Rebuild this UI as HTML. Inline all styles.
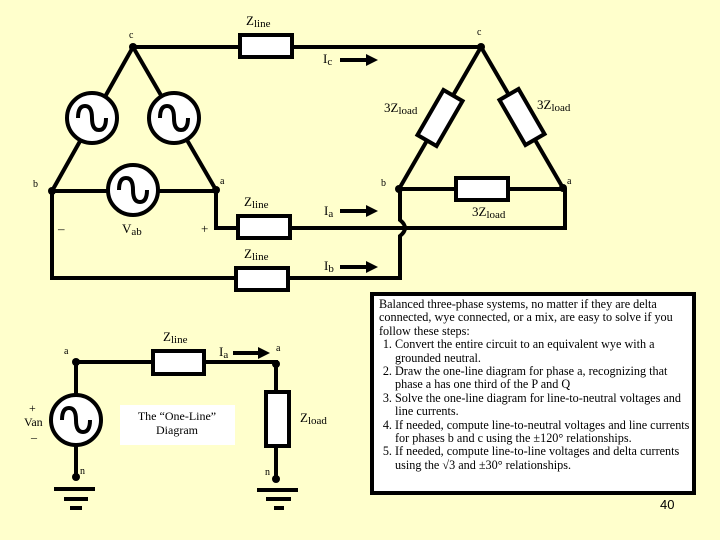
<!DOCTYPE html>
<html><head><style>
body{margin:0;background:#FFFFCC;}
svg{display:block;font-family:"Liberation Serif",serif;}
.w{stroke:#000;stroke-width:4;fill:none;}
.bx{stroke:#000;stroke-width:4;fill:#fff;}
.t{font-size:13px;}
.s{font-size:10px;}
#tb{position:absolute;left:370px;top:292px;border:4px solid #000;background:#fff;font-family:"Liberation Serif",serif;font-size:12.2px;line-height:13.4px;padding:2px 0 0 5px;box-sizing:border-box;width:326px;height:203px;}
#tb ol{margin:0;padding-left:16px;}
</style></head><body>
<svg width="720" height="540" viewBox="0 0 720 540">
<line class="w" x1="133" y1="47" x2="240" y2="47"/>
<rect class="bx" x="240" y="35" width="52" height="22"/>
<line class="w" x1="292" y1="47" x2="481" y2="47"/>
<line class="w" x1="133" y1="47" x2="52" y2="191"/>
<line class="w" x1="133" y1="47" x2="216" y2="190"/>
<line class="w" x1="52" y1="191" x2="216" y2="191"/>
<g class="bx"><circle cx="92" cy="118" r="25"/><circle cx="174" cy="118" r="25"/><circle cx="133" cy="190" r="25"/></g>
<g class="w" stroke-width="3.5">
<path d="M78 118 Q78 106 85 106 Q92 106 92 118 Q92 130 99 130 Q106 130 106 118"/>
<path d="M160 118 Q160 106 167 106 Q174 106 174 118 Q174 130 181 130 Q188 130 188 118"/>
<path d="M119 190 Q119 178 126 178 Q133 178 133 190 Q133 202 140 202 Q147 202 147 190"/>
</g>
<circle cx="133" cy="47" r="4"/><circle cx="52" cy="191" r="4"/><circle cx="216" cy="190" r="4"/>
<path class="w" d="M216 190 V228 H238"/>
<rect class="bx" x="238" y="216" width="52" height="22"/>
<path class="w" d="M290 228 H565 V188"/>
<path class="w" d="M52 191 V278 H236"/>
<rect class="bx" x="236" y="268" width="52" height="22"/>
<path class="w" d="M288 278 H400 V236 Q410 228 400 220 V189" stroke-width="3.5"/>
<line class="w" x1="481" y1="47" x2="399" y2="189"/>
<line class="w" x1="481" y1="47" x2="563" y2="188"/>
<line class="w" x1="399" y1="189" x2="563" y2="189"/>
<rect class="bx" x="-26" y="-11" width="52" height="22" transform="translate(440,118) rotate(-60)"/>
<rect class="bx" x="-26" y="-11" width="52" height="22" transform="translate(522,117) rotate(60)"/>
<rect class="bx" x="456" y="178" width="52" height="22"/>
<circle cx="481" cy="47" r="4"/><circle cx="399" cy="189" r="4"/><circle cx="563" cy="188" r="4"/>
<g><path class="w" d="M340 60 H368"/><path d="M366 54 L378 60 L366 66Z"/>
<path class="w" d="M340 211 H368"/><path d="M366 205 L378 211 L366 217Z"/>
<path class="w" d="M340 267 H368"/><path d="M366 261 L378 267 L366 273Z"/></g>
<g class="t">
<text x="129" y="38" class="s">c</text><text x="477" y="35" class="s">c</text>
<text x="33" y="187" class="s">b</text><text x="220" y="184" class="s">a</text>
<text x="381" y="186" class="s">b</text><text x="567" y="184" class="s">a</text>
<text x="246" y="25">Z<tspan font-size="11" dy="2">line</tspan></text>
<text x="244" y="206">Z<tspan font-size="11" dy="2">line</tspan></text>
<text x="244" y="258">Z<tspan font-size="11" dy="2">line</tspan></text>
<text x="323" y="63">I<tspan font-size="11" dy="2">c</tspan></text>
<text x="324" y="215">I<tspan font-size="11" dy="2">a</tspan></text>
<text x="324" y="270">I<tspan font-size="11" dy="2">b</tspan></text>
<text x="122" y="233">V<tspan font-size="11" dy="2">ab</tspan></text>
<text x="58" y="233">–</text><text x="201" y="233">+</text>
<text x="384" y="112">3Z<tspan font-size="11" dy="2">load</tspan></text>
<text x="537" y="109">3Z<tspan font-size="11" dy="2">load</tspan></text>
<text x="472" y="216">3Z<tspan font-size="11" dy="2">load</tspan></text>
</g>
<path class="w" d="M76 362 H153 M204 362 H276 V392 M276 446 V479 M76 362 V395 M76 445 V477"/>
<rect class="bx" x="153" y="351" width="51" height="23"/>
<rect class="bx" x="266" y="392" width="23" height="54"/>
<circle class="bx" cx="76" cy="420" r="25"/>
<path class="w" stroke-width="3.5" d="M62 420 Q62 408 69 408 Q76 408 76 420 Q76 432 83 432 Q90 432 90 420"/>
<circle cx="76" cy="362" r="4"/><circle cx="276" cy="364" r="4"/><circle cx="76" cy="477" r="4"/><circle cx="276" cy="479" r="4"/>
<g class="w" stroke-width="3.5"><path d="M54 489 H95 M64 499 H88 M70 508 H82 M257 490 H298 M266 499 H291 M274 508 H284"/></g>
<path class="w" d="M233 353 H260"/><path d="M258 347 L270 353 L258 359Z"/>
<rect x="120" y="405" width="115" height="40" fill="#fff"/>
<g class="t">
<text x="163" y="341">Z<tspan font-size="11" dy="2">line</tspan></text>
<text x="219" y="356">I<tspan font-size="11" dy="2">a</tspan></text>
<text x="300" y="422">Z<tspan font-size="11" dy="2">load</tspan></text>
<text x="64" y="354" class="s">a</text><text x="276" y="351" class="s">a</text>
<text x="80" y="474" class="s">n</text><text x="265" y="475" class="s">n</text>
<text x="29" y="412" font-size="12">+</text><text x="24" y="426" font-size="12">Van</text><text x="31" y="441" font-size="12">–</text>
<text x="177" y="420" text-anchor="middle" font-size="12">The “One-Line”</text>
<text x="177" y="434" text-anchor="middle" font-size="12">Diagram</text>
</g>
<text x="660" y="509" font-family="Liberation Sans" font-size="13">40</text>
</svg>
<div id="tb">Balanced three-phase systems, no matter if they are delta connected, wye connected, or a mix, are easy to solve if you follow these steps:
<ol>
<li>Convert the entire circuit to an equivalent wye with a grounded neutral.</li>
<li>Draw the one-line diagram for phase a, recognizing that phase a has one third of the P and Q</li>
<li>Solve the one-line diagram for line-to-neutral voltages and line currents.</li>
<li>If needed, compute line-to-neutral voltages and line currents for phases b and c using the ±120° relationships.</li>
<li>If needed, compute line-to-line voltages and delta currents using the √3 and ±30° relationships.</li>
</ol></div>
</body></html>
